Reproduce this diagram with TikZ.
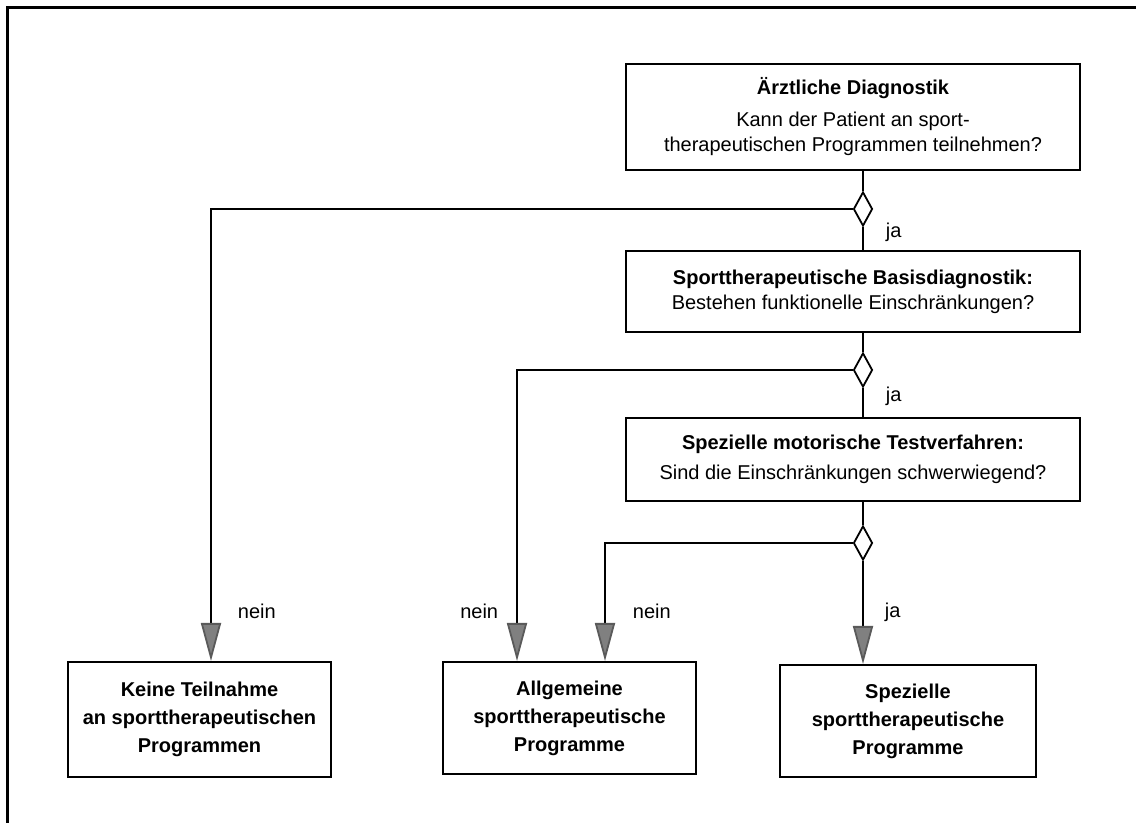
\documentclass[tikz,border=0pt]{standalone}
\definecolor{tipgray}{RGB}{128, 128, 128}
\definecolor{tipedge}{RGB}{90, 90, 90}
\usepackage{fontspec}
\setmainfont{Liberation Sans}
\usetikzlibrary{shapes.geometric, arrows.meta, positioning}
\tikzset{
  stepbox/.style={rectangle, draw, line width=1pt, minimum width=227pt, inner sep=0pt, align=center, font=\fontsize{10}{12.5}\selectfont},
  resultbox/.style={rectangle, draw, line width=1pt, inner sep=0pt, align=center, font=\fontsize{10}{14}\selectfont\bfseries},
  gatenode/.style={diamond, draw, line width=0.9pt, fill=white, minimum width=9.5pt, minimum height=17pt, inner sep=0pt},
  conn/.style={draw, line width=0.9pt},
  arr/.style={conn, -{Triangle[length=19pt, width=10pt, fill=tipgray, color=tipedge]}},
  edgelabel/.style={font=\fontsize{10}{12}\selectfont, inner sep=0pt},
}
\begin{document}
\begin{tikzpicture}[x=0.5pt, y=-0.5pt]
\useasboundingbox (0,0) rectangle (1136,823);
\draw[line width=1.5pt] (7,823) -- (7,8) -- (1136,8);
\node[stepbox, minimum height=53pt] (diag) at (853,117)
  {\textbf{Ärztliche Diagnostik}\\[3.5pt] Kann der Patient an sport-\\ therapeutischen Programmen teilnehmen?};
\node[stepbox, minimum height=40.5pt] (basis) at (853,291.5)
  {\textbf{Sporttherapeutische Basisdiagnostik:}\\ Bestehen funktionelle Einschränkungen?};
\node[stepbox, minimum height=41.5pt] (motor) at (853,459.5)
  {\textbf{Spezielle motorische Testverfahren:}\\[2.5pt] Sind die Einschränkungen schwerwiegend?};
\node[gatenode] (g1) at (863,209) {};
\node[gatenode] (g2) at (863,370) {};
\node[gatenode] (g3) at (863,543) {};
\node[resultbox, minimum width=131.5pt, minimum height=57.5pt] (keine) at (199.5,719.5)
  {Keine Teilnahme\\ an sporttherapeutischen\\ Programmen};
\node[resultbox, minimum width=126.5pt, minimum height=56pt] (allg) at (569.5,718)
  {Allgemeine\\ sporttherapeutische\\ Programme};
\node[resultbox, minimum width=128pt, minimum height=56pt] (spez) at (908,721)
  {Spezielle\\ sporttherapeutische\\ Programme};
\draw[conn] (diag.south -| g1) -- (g1.north);
\draw[conn] (g1.south) -- node[edgelabel, right=11pt, yshift=3pt] {ja} (basis.north -| g1);
\draw[conn] (basis.south -| g2) -- (g2.north);
\draw[conn] (g2.south) -- node[edgelabel, right=11pt, yshift=3pt] {ja} (motor.north -| g2);
\draw[conn] (motor.south -| g3) -- (g3.north);
\draw[arr] (g1.west) -| node[edgelabel, pos=0.945, right=13pt] {nein} ([xshift=5.75pt]keine.north);
\draw[arr] (g2.west) -| node[edgelabel, pos=0.914, left=9pt] {nein} ([xshift=-26.25pt]allg.north);
\draw[arr] (g3.west) -| node[edgelabel, pos=0.79, right=13.5pt] {nein} ([xshift=17.75pt]allg.north);
\draw[arr] (g3.south) -- node[edgelabel, right=10.5pt] {ja} (spez.north -| g3);
\end{tikzpicture}
\end{document}
